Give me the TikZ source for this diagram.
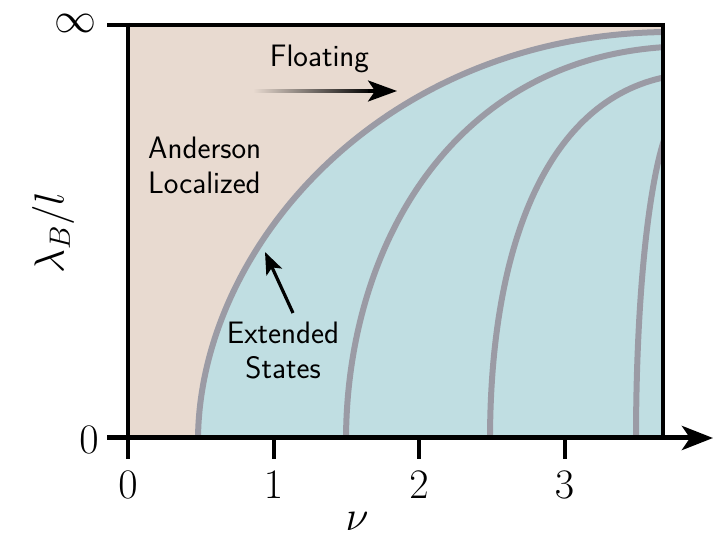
\documentclass[tikz,border=0pt]{standalone}
\usepackage{fix-cm}
\usetikzlibrary{arrows.meta}
\definecolor{peach}{RGB}{232,218,208}
\definecolor{icyblue}{RGB}{192,222,226}
\definecolor{curvegray}{RGB}{155,155,165}
\begin{document}
\begin{tikzpicture}[x=1pt,y=-1pt,
  curve/.style={curvegray,line width=6pt},
  frameline/.style={black,line width=4pt},
  ticktick/.style={black,line width=4pt},
  mathlbl/.style={font=\fontsize{42}{50}\selectfont, inner sep=0pt},
  txt/.style={font=\sffamily\fontsize{31}{35}\selectfont, inner sep=0pt},
  pointer/.style={black,line width=3.2pt}]
\useasboundingbox (0,0) rectangle (718,534);
% corner coordinates
\coordinate (o) at (128,438);
\coordinate (tl) at (128,25);
\coordinate (tr) at (663,25);
\coordinate (br) at (663,438);
% fills
\fill[peach] (tl) rectangle (br);
\fill[icyblue] (198,438) .. controls (198,250) and (380,35) .. (663,32) -- (br) -- cycle;
% curves
\begin{scope}
\clip (tl) rectangle (br);
\draw[curve] (198,441) .. controls (198,250) and (380,35) .. (666,32);
\draw[curve] (346,441) .. controls (346,250) and (450,60) .. (666,47);
\draw[curve] (490,441) .. controls (490,240) and (550,100) .. (666,77);
\draw[curve] (636,441) .. controls (636,300) and (648,190) .. (664,140);
\end{scope}
% frame and axes
\coordinate (topstart) at (107,25);
\coordinate (xstart) at (107,438);
\coordinate (xend) at (713,438);
\coordinate (ybot) at (128,459);
\coordinate (ytop) at (128,23);
\draw[frameline] (topstart) -- (tr);
\draw[black,line width=3.5pt] (663,23) -- (br);
\draw[frameline] (ytop) -- (ybot);
\draw[black,line width=5pt,-{Stealth[length=31pt,width=24pt,inset=8pt]}] (xstart) -- (xend);
\coordinate (t1) at (273.5,438); \coordinate (t1b) at (273.5,459);
\coordinate (t2) at (419,438); \coordinate (t2b) at (419,459);
\coordinate (t3) at (564.5,438); \coordinate (t3b) at (564.5,459);
\draw[ticktick] (t1) -- (t1b);
\draw[ticktick] (t2) -- (t2b);
\draw[ticktick] (t3) -- (t3b);
% tick labels
\node[mathlbl, anchor=base] (l0) at (128,499) {$0$};
\node[mathlbl, anchor=base] (l1) at (273.5,499) {$1$};
\node[mathlbl, anchor=base] (l2) at (419,499) {$2$};
\node[mathlbl, anchor=base] (l3) at (564.5,499) {$3$};
\node[mathlbl, anchor=base] (nu) at (357,530) {$\nu$};
\node[mathlbl] (y0) at (89,440) {$0$};
\node[mathlbl] (yinf) at (75,23) {$\infty$};
\node[mathlbl, rotate=90] (ylab) at (53,233) {$\lambda_B/l$};
% texts
\node[txt, anchor=base] (float) at (319.5,67) {Floating};
\node[txt, anchor=north west, align=left] (ander) at (148,136.5) {Anderson\\Localized};
\node[txt, anchor=north, align=center] (ext) at (283,321.5) {Extended\\States};
% floating arrow
\coordinate (fa) at (253,91);
\coordinate (fb) at (368,91);
\coordinate (fc) at (397,91);
\shade[left color=peach, right color=black] (253,89.4) rectangle (372,92.6);
\draw[pointer,-{Stealth[length=29pt,width=21pt,inset=7pt]}] (fb) -- (fc);
% extended arrow
\coordinate (ea) at (293,313);
\coordinate (eb) at (265,252);
\draw[pointer,-{Stealth[length=22pt,width=17pt,inset=5pt]}] (ea) -- (eb);
\end{tikzpicture}
\end{document}
